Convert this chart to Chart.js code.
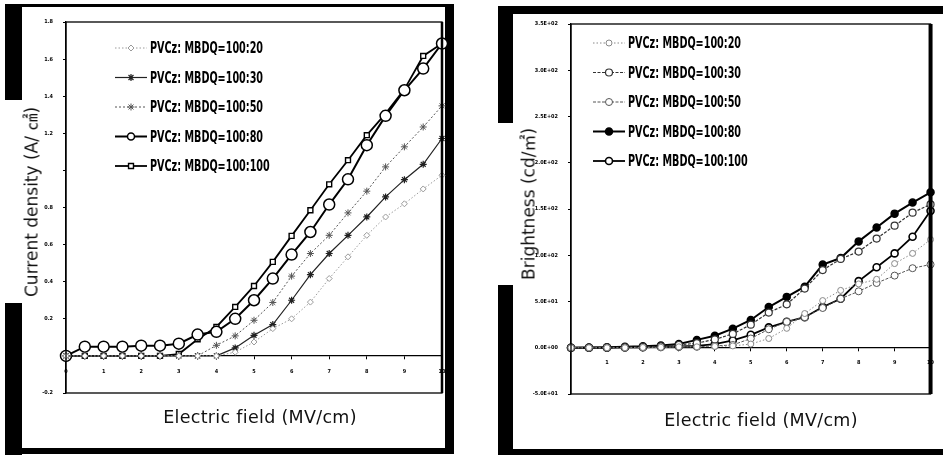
<!DOCTYPE html>
<html>
<head>
<meta charset="utf-8">
<script src="https://cdn.jsdelivr.net/npm/chart.js@4.4.0/dist/chart.umd.min.js"></script>
<style>
  body { margin: 0; background: #fff; width: 943px; height: 460px; overflow: hidden; position: relative; font-family: "DejaVu Sans", "Noto Sans CJK KR", sans-serif; }
  canvas { position: absolute; top: 0; }
  .bar { position: absolute; background: #000; }
  .ytitle { position: absolute; transform: translate(-50%, -50%) rotate(-90deg); white-space: nowrap; font-size: 17px; color: #111; }
  .xtitle { position: absolute; transform: translate(-50%, -50%); white-space: nowrap; font-size: 17.5px; color: #111; letter-spacing: 0.3px; }
</style>
</head>
<body>
<!-- black scan frame round the two panels -->
<div class="bar" style="left:5px;top:4px;width:448px;height:3px"></div>
<div class="bar" style="left:5px;top:4px;width:17px;height:96px"></div>
<div class="bar" style="left:5px;top:303px;width:17px;height:152px"></div>
<div class="bar" style="left:445px;top:4px;width:9px;height:450px"></div>
<div class="bar" style="left:5px;top:448px;width:449px;height:6px"></div>

<div class="bar" style="left:498px;top:6px;width:445px;height:8px"></div>
<div class="bar" style="left:498px;top:6px;width:15px;height:117px"></div>
<div class="bar" style="left:498px;top:285px;width:15px;height:170px"></div>
<div class="bar" style="left:498px;top:449px;width:445px;height:6px"></div>

<canvas id="currentChart" width="470" height="460" style="left:0"></canvas>
<canvas id="brightChart" width="473" height="460" style="left:470px"></canvas>

<div class="ytitle" style="left:30px;top:202px">Current density (A/ ㎠)</div>
<div class="xtitle" style="left:260px;top:417px">Electric field (MV/cm)</div>
<div class="ytitle" style="left:527px;top:204px">Brightness (cd/㎡)</div>
<div class="xtitle" style="left:761px;top:420px">Electric field (MV/cm)</div>

<script>
const fieldValues = [0, 0.5, 1, 1.5, 2, 2.5, 3, 3.5, 4, 4.5, 5, 5.5, 6, 6.5, 7, 7.5, 8, 8.5, 9, 9.5, 10];
const seriesNames = ['PVCz: MBDQ=100:20', 'PVCz: MBDQ=100:30', 'PVCz: MBDQ=100:50', 'PVCz: MBDQ=100:80', 'PVCz: MBDQ=100:100'];

// current density (A/cm2)
const current20 = [0, 0, 0, 0, 0, 0, 0, 0, 0, 0.02, 0.075, 0.147, 0.2, 0.29, 0.417, 0.534, 0.65, 0.749, 0.82, 0.9, 0.974];
const current30 = [0, 0, 0, 0, 0, 0, 0, 0, 0, 0.043, 0.111, 0.169, 0.3, 0.438, 0.552, 0.65, 0.749, 0.857, 0.95, 1.033, 1.172];
const current50 = [0, 0, 0, 0, 0, 0, 0, 0, 0.057, 0.108, 0.192, 0.288, 0.43, 0.552, 0.65, 0.771, 0.888, 1.019, 1.127, 1.234, 1.348];
const current80 = [0, 0.05, 0.05, 0.05, 0.055, 0.055, 0.066, 0.115, 0.13, 0.2, 0.3, 0.417, 0.546, 0.668, 0.816, 0.952, 1.136, 1.294, 1.432, 1.549, 1.684];
const current100 = [0, 0, 0, 0, 0, 0, 0.01, 0.09, 0.156, 0.264, 0.377, 0.507, 0.647, 0.785, 0.925, 1.055, 1.19, 1.306, 1.437, 1.617, 1.684];

// brightness (cd/m2)
const bright20 = [0, 0, 0, 0, 0.3, 0.5, 1, 1, 1.5, 2, 4, 10, 21, 37, 51, 62, 69, 74, 91, 102, 117];
const bright30 = [0, 0, 0.3, 0.5, 1, 1.5, 3, 5, 9, 15, 25, 38, 47, 64, 84, 96, 104, 118, 132, 146, 155];
const bright50 = [0, 0, 0, 0, 0.3, 0.5, 1, 1, 2, 3, 10, 20, 28, 33, 43, 53, 61, 70, 78, 86, 90];
const bright80 = [0, 0.3, 0.6, 1, 1.5, 2.5, 4, 8.5, 13, 20.6, 30, 44, 55, 66, 90, 97, 115, 130, 145, 157, 168];
const bright100 = [0, 0, 0, 0.3, 0.5, 1, 1.5, 2, 4, 8, 14, 22, 28, 33, 44, 53, 72, 87, 102, 120, 148];

// tick labels, bottom to top / left to right
const currentTickLabels = ['-0.2', '', '0.2', '0.4', '0.6', '0.8', '', '1.2', '1.4', '1.6', '1.8'];
const brightTickLabels = ['-5.0E+01', '0.0E+00', '5.0E+01', '1.0E+02', '1.5E+02', '2.0E+02', '2.5E+02', '3.0E+02', '3.5E+02'];
const fieldTickLabelsLeft = ['0', '1', '2', '3', '4', '5', '6', '7', '8', '9', '10'];
const fieldTickLabelsRight = ['', '1', '2', '3', '4', '5', '6', '7', '8', '9', '10'];

const tickFont = { family: '"DejaVu Sans Condensed", "DejaVu Sans"', size: 5.5, weight: 'bold' };

function toPoints(values) {
  return values.map((v, i) => ({ x: fieldValues[i], y: v }));
}

// legend drawn inside the plot area, top left, one row for each dataset
const insideLegend = {
  id: 'insideLegend',
  afterDatasetsDraw(chart, args, opts) {
    const ctx = chart.ctx;
    ctx.save();
    chart.data.datasets.forEach((ds, i) => {
      const x = opts.left;
      const y = opts.top + i * opts.step;
      ctx.strokeStyle = ds.borderColor;
      ctx.lineWidth = ds.borderWidth;
      ctx.setLineDash(ds.borderDash || []);
      ctx.beginPath();
      ctx.moveTo(x, y);
      ctx.lineTo(x + opts.sample, y);
      ctx.stroke();
      ctx.setLineDash([]);
      ctx.fillStyle = ds.pointBackgroundColor;
      ctx.strokeStyle = ds.borderColor;
      ctx.lineWidth = ds.pointBorderWidth;
      Chart.helpers.drawPoint(ctx, {
        pointStyle: ds.pointStyle,
        radius: Math.min(ds.pointRadius, 3.5),
        rotation: 0,
        borderWidth: ds.pointBorderWidth
      }, x + opts.sample / 2, y);
      // the scanned legend text is very narrow, so squeeze it sideways
      ctx.save();
      ctx.translate(x + opts.sample + 3, y + 1);
      ctx.scale(opts.squeeze, 1);
      ctx.fillStyle = '#000';
      ctx.font = opts.font;
      ctx.textBaseline = 'middle';
      ctx.fillText(ds.label, 0, 0);
      ctx.restore();
    });
    ctx.restore();
  }
};

// frame of the plot area
const plotBox = {
  id: 'plotBox',
  afterDraw(chart, args, opts) {
    const { left, top, right, bottom } = chart.chartArea;
    const ctx = chart.ctx;
    ctx.save();
    ctx.strokeStyle = '#000';
    ctx.lineWidth = 1.3;
    ctx.strokeRect(left, top, right - left, bottom - top);
    ctx.lineWidth = opts.rightWidth;
    ctx.beginPath();
    ctx.moveTo(right, top);
    ctx.lineTo(right, bottom);
    ctx.stroke();
    ctx.restore();
  }
};

function makeSet(label, values, s) {
  return {
    label: label,
    data: toPoints(values),
    borderColor: s.color,
    borderWidth: s.width,
    borderDash: s.dash,
    pointStyle: s.point,
    pointRadius: s.radius,
    pointBorderWidth: s.pw,
    pointBackgroundColor: s.fill,
    pointBorderColor: s.color,
    tension: 0,
    clip: false
  };
}

function makeChart(id, sets, cfg) {
  return new Chart(document.getElementById(id), {
    type: 'line',
    data: { datasets: sets },
    plugins: [insideLegend, plotBox],
    options: {
      responsive: false,
      animation: false,
      layout: { padding: cfg.padding },
      scales: {
        x: {
          type: 'linear', min: 0, max: 10,
          position: { y: 0 },
          afterFit(scale) { scale.height = 0; },
          ticks: { stepSize: 1, autoSkip: false, maxRotation: 0, padding: 9, color: '#000', font: tickFont,
            callback: (v, i) => cfg.xLabels[i] },
          grid: { drawOnChartArea: false, tickLength: 3, color: '#000' },
          border: { color: '#000', width: 1.3 }
        },
        y: {
          min: cfg.yMin, max: cfg.yMax,
          afterFit(scale) { scale.width = cfg.yWidth; },
          ticks: { stepSize: cfg.yStep, autoSkip: false, padding: 10, color: '#000', font: tickFont,
            callback: (v, i) => cfg.yLabels[i] },
          grid: { drawOnChartArea: false, tickLength: 3, color: '#000' },
          border: { color: '#000', width: 1.3 }
        }
      },
      plugins: {
        legend: { display: false },
        tooltip: { enabled: false },
        insideLegend: { left: cfg.legendLeft, top: cfg.legendTop, step: cfg.legendStep, sample: 32, squeeze: 0.67,
          font: 'bold 16px "DejaVu Sans Condensed", sans-serif' },
        plotBox: { rightWidth: cfg.rightWidth }
      }
    }
  });
}

const currentSets = [
  makeSet(seriesNames[0], current20, { color: '#9a9a9a', width: 1, dash: [1.5, 2], point: 'rectRot', radius: 3, pw: 1, fill: '#fff' }),
  makeSet(seriesNames[1], current30, { color: '#222', width: 1.2, dash: [], point: 'star', radius: 3.5, pw: 1.2, fill: '#fff' }),
  makeSet(seriesNames[2], current50, { color: '#555', width: 1, dash: [2, 2], point: 'star', radius: 3.5, pw: 1, fill: '#fff' }),
  makeSet(seriesNames[3], current80, { color: '#000', width: 2, dash: [], point: 'circle', radius: 5.5, pw: 1.5, fill: '#fff' }),
  makeSet(seriesNames[4], current100, { color: '#000', width: 1.8, dash: [], point: 'rect', radius: 3.5, pw: 1.4, fill: '#fff' })
];

const brightSets = [
  makeSet(seriesNames[0], bright20, { color: '#888', width: 1, dash: [1.5, 2], point: 'circle', radius: 3, pw: 1, fill: '#fff' }),
  makeSet(seriesNames[1], bright30, { color: '#333', width: 1.2, dash: [3, 1.5], point: 'circle', radius: 3.5, pw: 1.2, fill: '#fff' }),
  makeSet(seriesNames[2], bright50, { color: '#555', width: 1, dash: [3, 1.5], point: 'circle', radius: 3.5, pw: 1, fill: '#fff' }),
  makeSet(seriesNames[3], bright80, { color: '#000', width: 2, dash: [], point: 'circle', radius: 3.5, pw: 1.5, fill: '#000' }),
  makeSet(seriesNames[4], bright100, { color: '#000', width: 1.8, dash: [], point: 'circle', radius: 3.5, pw: 1.6, fill: '#fff' })
];

makeChart('currentChart', currentSets, {
  padding: { left: 26, right: 28, top: 22, bottom: 67 },
  yWidth: 40, yMin: -0.2, yMax: 1.8, yStep: 0.2,
  yLabels: currentTickLabels, xLabels: fieldTickLabelsLeft,
  legendLeft: 115, legendTop: 48, legendStep: 29.5, rightWidth: 2.5
});

makeChart('brightChart', brightSets, {
  padding: { left: 56, right: 6, top: 24, bottom: 66 },
  yWidth: 45, yMin: -50, yMax: 350, yStep: 50,
  yLabels: brightTickLabels, xLabels: fieldTickLabelsRight,
  legendLeft: 123, legendTop: 43, legendStep: 29.5, rightWidth: 4
});
</script>
</body>
</html>
